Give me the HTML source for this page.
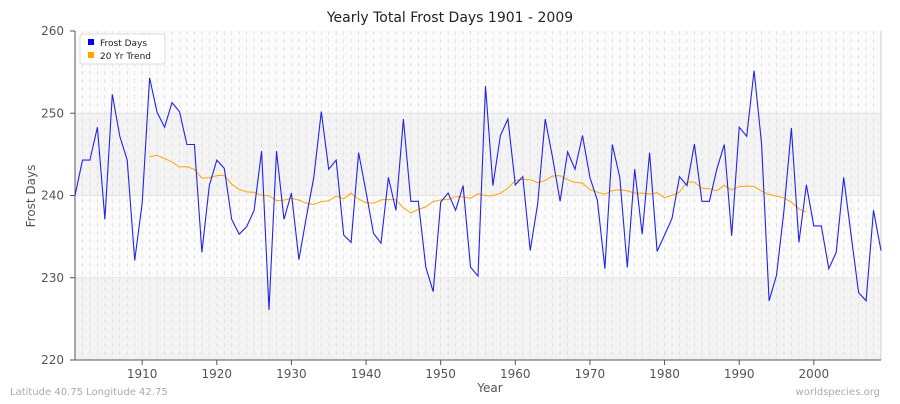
<!DOCTYPE html>
<html><head><meta charset="utf-8"><style>
body{margin:0;background:#fff;width:900px;height:400px;overflow:hidden;font-family:"DejaVu Sans",sans-serif}
</style></head><body>
<svg id="s" width="900" height="400" xmlns="http://www.w3.org/2000/svg" font-family="DejaVu Sans, sans-serif"></svg>
<script>
const d=[240,244.3,244.3,248.3,237.1,252.3,247.2,244.3,232.1,239.1,254.3,250.1,248.3,251.3,250.2,246.2,246.2,233.1,241.2,244.3,243.3,237.1,235.3,236.2,238.2,245.4,226.1,245.4,237.1,240.3,232.2,237.4,242.2,250.2,243.2,244.3,235.2,234.3,245.2,240.4,235.4,234.2,242.2,238.2,249.3,239.3,239.3,231.3,228.3,239.2,240.3,238.2,241.2,231.3,230.2,253.3,241.2,247.3,249.3,241.3,242.3,233.3,239,249.3,244.6,239.3,245.3,243.2,247.3,242.2,239.4,231.1,246.2,242.2,231.25,243.2,235.3,245.2,233.2,235.2,237.2,242.3,241.2,246.25,239.3,239.3,243.2,246.2,235.1,248.3,247.2,255.2,246.25,227.2,230.3,238.2,248.2,234.3,241.3,236.3,236.3,231.1,233.1,242.2,235.2,228.2,227.2,238.2,233.3];
const X=y=>75+(y-1901)*806/108, Y=v=>360-(v-220)*8.225;
let s='';
s+=`<rect x="75" y="31" width="806" height="82" fill="#fbfbfb"/><rect x="75" y="113" width="806" height="82" fill="#f3f3f3"/><rect x="75" y="195" width="806" height="82" fill="#fbfbfb"/><rect x="75" y="277" width="806" height="83" fill="#f3f3f3"/>`;
for(let y=1901;y<=2009;y++){s+=`<line x1="${X(y)}" y1="31" x2="${X(y)}" y2="360" stroke="#dcdcdc" stroke-width="0.8" stroke-dasharray="4,4"/>`;}
[250,240,230].forEach(v=>s+=`<line x1="75" x2="881" y1="${Y(v)}" y2="${Y(v)}" stroke="#e4e4e4" stroke-width="1"/>`);
s+=`<line x1="881" y1="31" x2="881" y2="360" stroke="#ccc"/>`;
s+=`<line x1="75" y1="31" x2="75" y2="360" stroke="#555"/><line x1="75" y1="360" x2="881" y2="360" stroke="#555"/>`;
[220,230,240,250,260].forEach(v=>s+=`<text x="64" y="${Y(v)+4}" text-anchor="end" font-size="12" fill="#555">${v}</text><line x1="70" x2="75" y1="${Y(v)}" y2="${Y(v)}" stroke="#555"/>`);
for(let y=1910;y<=2000;y+=10)s+=`<text x="${X(y)}" y="378" text-anchor="middle" font-size="12" fill="#555">${y}</text><line x1="${X(y)}" x2="${X(y)}" y1="360" y2="365" stroke="#555"/>`;
let p=d.map((v,i)=>X(1901+i).toFixed(1)+','+Y(v).toFixed(1)).join(' ');
let t=[];for(let y=1911;y<=1999;y++){let a=0;for(let k=y-10;k<=y+9;k++)a+=d[k-1901];t.push(X(y).toFixed(1)+','+Y(a/20).toFixed(1));}
s+=`<polyline points="${t.join(' ')}" fill="none" stroke="#ffa500" stroke-width="1"/>`;
s+=`<polyline points="${p}" fill="none" stroke="#2222ee" stroke-width="1.1"/>`;
s+=`<rect x="80" y="34" width="85" height="30" rx="3" fill="#fff" stroke="#ddd"/><rect x="88" y="39" width="6" height="6" fill="#0000ee"/><text x="100" y="46" font-size="9" fill="#222">Frost Days</text><rect x="88" y="52" width="6" height="6" fill="#ffa500"/><text x="100" y="59" font-size="9" fill="#222">20 Yr Trend</text>`;
s+=`<text x="450" y="22" text-anchor="middle" font-size="14" fill="#222">Yearly Total Frost Days 1901 - 2009</text>`;
s+=`<text x="490" y="392" text-anchor="middle" font-size="12" fill="#555">Year</text>`;
s+=`<text transform="translate(35,196) rotate(-90)" text-anchor="middle" font-size="12" fill="#555">Frost Days</text>`;
s+=`<text x="10" y="395" font-size="10" fill="#aaa">Latitude 40.75 Longitude 42.75</text><text x="880" y="395" text-anchor="end" font-size="10" fill="#aaa">worldspecies.org</text>`;
document.getElementById('s').innerHTML=s;
</script>
</body></html>
